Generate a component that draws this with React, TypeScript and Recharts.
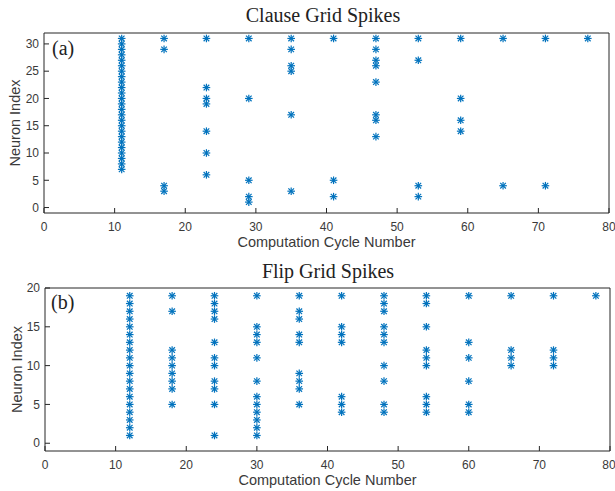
import React from 'react';
import { ScatterChart, Scatter, XAxis, YAxis } from 'recharts';

const clauseCycles = [11, 17, 23, 29, 35, 41, 47, 53, 59, 65, 71, 77];
const clauseNeurons = [
  [7, 8, 9, 10, 11, 12, 13, 14, 15, 16, 17, 18, 19, 20, 21, 22, 23, 24, 25, 26, 27, 28, 29, 30, 31],
  [3, 4, 29, 31],
  [6, 10, 14, 19, 20, 22, 31],
  [1, 2, 5, 20, 31],
  [3, 17, 25, 26, 29, 31],
  [2, 5, 31],
  [13, 16, 17, 23, 26, 27, 29, 31],
  [2, 4, 27, 31],
  [14, 16, 20, 31],
  [4, 31],
  [4, 31],
  [31],
];

const flipCycles = [12, 18, 24, 30, 36, 42, 48, 54, 60, 66, 72, 78];
const flipNeurons = [
  [1, 2, 3, 4, 5, 6, 7, 8, 9, 10, 11, 12, 13, 14, 15, 16, 17, 18, 19],
  [5, 7, 8, 9, 10, 11, 12, 17, 19],
  [1, 5, 7, 8, 10, 11, 13, 16, 17, 18, 19],
  [1, 2, 3, 4, 5, 6, 8, 11, 13, 14, 15, 19],
  [5, 7, 8, 9, 13, 14, 16, 17, 19],
  [4, 5, 6, 13, 14, 15, 19],
  [4, 5, 8, 10, 13, 14, 15, 17, 18, 19],
  [4, 5, 6, 10, 11, 12, 15, 18, 19],
  [4, 5, 8, 11, 13, 19],
  [10, 11, 12, 19],
  [10, 11, 12, 19],
  [19],
];

const xTicks = [0, 10, 20, 30, 40, 50, 60, 70, 80];
const clauseYTicks = [0, 5, 10, 15, 20, 25, 30];
const flipYTicks = [0, 5, 10, 15, 20];

const toPoints = (cycles: number[], neurons: number[][]) =>
  cycles.flatMap((c, i) => neurons[i].map((n) => ({ x: c, y: n })));

const BLUE = '#0072BD';
const AXIS = '#262626';
const SANS = '"Liberation Sans", Arial, sans-serif';
const SERIF = '"Liberation Serif", "Times New Roman", serif';

// matlab style '*' marker
const Asterisk = (props: any) => {
  const { cx, cy } = props;
  if (cx == null || cy == null) return null;
  const r = 3.8;
  const d = 2.8;
  return (
    <g stroke={BLUE} strokeWidth={1.2}>
      <line x1={cx - r} y1={cy} x2={cx + r} y2={cy} />
      <line x1={cx} y1={cy - r} x2={cx} y2={cy + r} />
      <line x1={cx - d} y1={cy - d} x2={cx + d} y2={cy + d} />
      <line x1={cx - d} y1={cy + d} x2={cx + d} y2={cy - d} />
    </g>
  );
};

type PanelProps = {
  width: number;
  height: number;
  margin: { top: number; right: number; left: number; bottom: number };
  yAxisWidth: number;
  xAxisHeight: number;
  yDomain: [number, number];
  yTicks: number[];
  points: { x: number; y: number }[];
  xLabelOffset: number;
  yLabelOffset: number;
};

const tickStyle = { fill: '#3a3a3a', fontSize: 12, fontFamily: SANS };
const labelStyle = { fill: '#3a3a3a', fontSize: 14.5, fontFamily: SANS };

const Panel = (p: PanelProps) => (
  <ScatterChart width={p.width} height={p.height} margin={p.margin}>
    <XAxis
      type="number"
      dataKey="x"
      domain={[0, 80]}
      ticks={xTicks}
      allowDataOverflow
      height={p.xAxisHeight}
      tickSize={-5}
      tickMargin={14}
      stroke={AXIS}
      tick={tickStyle}
      label={{ value: 'Computation Cycle Number', position: 'insideBottom', offset: p.xLabelOffset, style: labelStyle }}
    />
    <XAxis
      xAxisId="top"
      orientation="top"
      type="number"
      domain={[0, 80]}
      ticks={xTicks}
      allowDataOverflow
      height={1}
      tickSize={-5}
      tick={false}
      stroke={AXIS}
    />
    <YAxis
      type="number"
      dataKey="y"
      domain={p.yDomain}
      ticks={p.yTicks}
      allowDataOverflow
      width={p.yAxisWidth}
      tickSize={-5}
      tickMargin={10}
      stroke={AXIS}
      tick={tickStyle}
      label={{
        value: 'Neuron Index',
        angle: -90,
        position: 'insideLeft',
        offset: p.yLabelOffset,
        style: { ...labelStyle, textAnchor: 'middle' },
      }}
    />
    <YAxis
      yAxisId="right"
      orientation="right"
      type="number"
      domain={p.yDomain}
      ticks={p.yTicks}
      allowDataOverflow
      width={1}
      tickSize={-5}
      tick={false}
      stroke={AXIS}
    />
    <Scatter data={p.points} shape={Asterisk} isAnimationActive={false} />
  </ScatterChart>
);

export default function App() {
  return (
    <div style={{ position: 'absolute', left: 0, top: 0, width: 615, height: 491, background: '#fff' }}>
      <div style={{ position: 'absolute', left: 0, top: 0 }}>
        <Panel
          width={615}
          height={250}
          margin={{ top: 32, right: 5, left: 0, bottom: 0 }}
          yAxisWidth={44}
          xAxisHeight={37}
          yDomain={[-1, 32]}
          yTicks={clauseYTicks}
          points={toPoints(clauseCycles, clauseNeurons)}
          xLabelOffset={3}
          yLabelOffset={15}
        />
      </div>
      <div style={{ position: 'absolute', left: 0, top: 250 }}>
        <Panel
          width={615}
          height={241}
          margin={{ top: 37, right: 4, left: 0, bottom: 0 }}
          yAxisWidth={45}
          xAxisHeight={40}
          yDomain={[-1, 20]}
          yTicks={flipYTicks}
          points={toPoints(flipCycles, flipNeurons)}
          xLabelOffset={6}
          yLabelOffset={17}
        />
      </div>
      <svg
        width={615}
        height={491}
        style={{ position: 'absolute', left: 0, top: 0, pointerEvents: 'none' }}
        fontFamily={SERIF}
        fill="#222"
      >
        <text x={323} y={22} fontSize={20} textAnchor="middle">Clause Grid Spikes</text>
        <text x={52} y={55} fontSize={20}>(a)</text>
        <text x={328} y={278} fontSize={20} textAnchor="middle">Flip Grid Spikes</text>
        <text x={51} y={309} fontSize={20}>(b)</text>
      </svg>
    </div>
  );
}
